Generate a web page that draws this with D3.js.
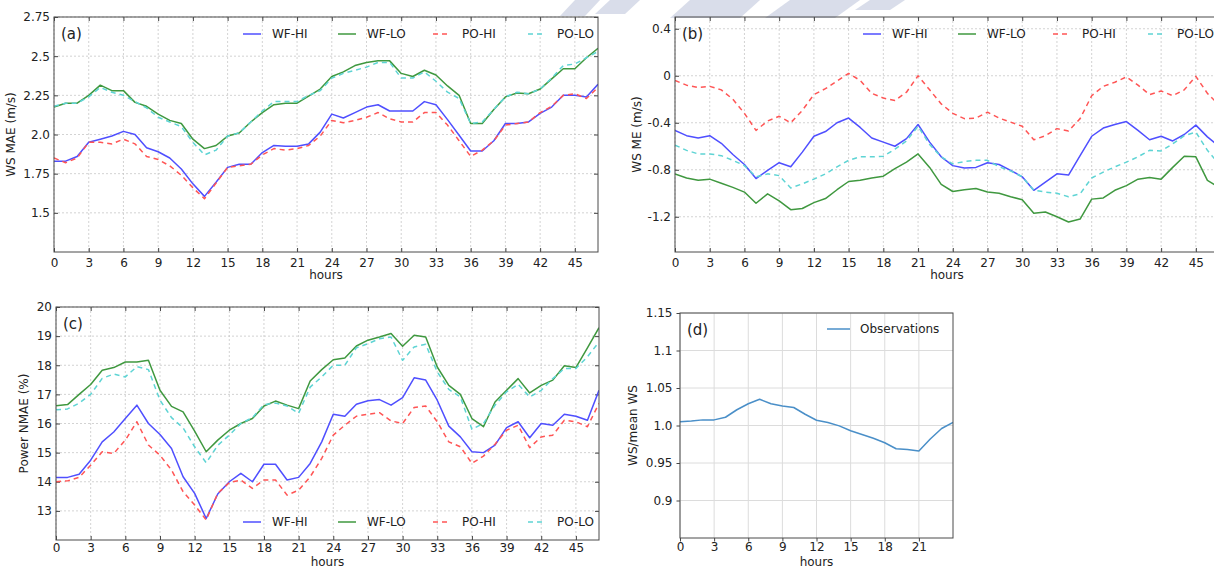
<!DOCTYPE html>
<html><head><meta charset="utf-8">
<script src="https://cdn.jsdelivr.net/npm/d3@7/dist/d3.min.js"></script>
<style>
body{margin:0;background:#fff;}
text{font-family:"DejaVu Sans",sans-serif;fill:#222;}
</style></head>
<body><svg id="c" width="1214" height="569"></svg>
<script>
// ---------- data ----------
const hours48 = d3.range(0, 48);
const hours24 = d3.range(0, 25);
const xTicks48 = [0,3,6,9,12,15,18,21,24,27,30,33,36,39,42,45];
const xTicks24 = [0,3,6,9,12,15,18,21];
const seriesNames = ["WF-HI","WF-LO","PO-HI","PO-LO"];

const aWFHI = [1.83,1.83,1.86,1.95,1.97,1.99,2.02,2.00,1.915,1.89,1.85,1.78,1.685,1.605,1.695,1.79,1.81,1.81,1.885,1.93,1.925,1.925,1.94,2.015,2.13,2.105,2.14,2.175,2.19,2.15,2.15,2.15,2.21,2.19,2.095,1.995,1.895,1.895,1.96,2.07,2.07,2.08,2.135,2.175,2.25,2.25,2.24,2.32];
const aWFLO = [2.175,2.20,2.20,2.25,2.315,2.28,2.28,2.205,2.18,2.13,2.09,2.07,1.97,1.91,1.93,1.99,2.01,2.08,2.14,2.19,2.20,2.20,2.245,2.29,2.37,2.40,2.44,2.46,2.47,2.47,2.39,2.37,2.41,2.38,2.31,2.25,2.07,2.07,2.16,2.24,2.265,2.26,2.29,2.355,2.42,2.42,2.49,2.55];
const aPOHI = [1.85,1.82,1.85,1.95,1.95,1.94,1.97,1.94,1.86,1.84,1.80,1.74,1.66,1.59,1.69,1.79,1.80,1.81,1.87,1.91,1.90,1.91,1.93,1.99,2.09,2.075,2.09,2.11,2.14,2.10,2.08,2.08,2.14,2.14,2.06,1.96,1.86,1.90,1.96,2.06,2.07,2.08,2.14,2.18,2.25,2.26,2.23,2.30];
const aPOLO = [2.18,2.20,2.20,2.24,2.30,2.27,2.25,2.21,2.17,2.11,2.08,2.05,1.95,1.87,1.90,1.99,2.01,2.08,2.15,2.21,2.21,2.21,2.25,2.28,2.36,2.39,2.41,2.43,2.46,2.46,2.36,2.36,2.40,2.34,2.27,2.23,2.07,2.08,2.16,2.24,2.27,2.26,2.29,2.36,2.44,2.45,2.49,2.53];

const bWFHI = [-0.465,-0.51,-0.53,-0.51,-0.575,-0.67,-0.755,-0.875,-0.805,-0.74,-0.775,-0.65,-0.515,-0.475,-0.40,-0.36,-0.44,-0.53,-0.565,-0.60,-0.535,-0.415,-0.565,-0.69,-0.765,-0.785,-0.78,-0.74,-0.755,-0.805,-0.86,-0.975,-0.905,-0.835,-0.845,-0.68,-0.515,-0.445,-0.415,-0.39,-0.465,-0.545,-0.515,-0.555,-0.50,-0.42,-0.52,-0.60];
const bWFLO = [-0.835,-0.87,-0.89,-0.88,-0.915,-0.95,-0.99,-1.085,-1.005,-1.065,-1.14,-1.13,-1.08,-1.045,-0.97,-0.90,-0.89,-0.87,-0.855,-0.79,-0.735,-0.665,-0.78,-0.925,-0.985,-0.97,-0.96,-0.99,-1.0,-1.03,-1.055,-1.17,-1.16,-1.20,-1.245,-1.22,-1.05,-1.04,-0.975,-0.935,-0.88,-0.865,-0.88,-0.78,-0.685,-0.69,-0.89,-0.95];
const bPOHI = [-0.04,-0.08,-0.10,-0.09,-0.12,-0.20,-0.32,-0.465,-0.385,-0.345,-0.40,-0.295,-0.16,-0.11,-0.045,0.02,-0.04,-0.15,-0.19,-0.21,-0.14,0.0,-0.12,-0.24,-0.32,-0.365,-0.36,-0.31,-0.36,-0.395,-0.43,-0.545,-0.51,-0.45,-0.47,-0.365,-0.17,-0.09,-0.055,-0.01,-0.08,-0.16,-0.13,-0.17,-0.12,-0.005,-0.15,-0.25];
const bPOLO = [-0.59,-0.635,-0.665,-0.665,-0.68,-0.72,-0.765,-0.86,-0.835,-0.85,-0.955,-0.92,-0.88,-0.835,-0.775,-0.72,-0.69,-0.69,-0.685,-0.625,-0.555,-0.43,-0.585,-0.69,-0.75,-0.73,-0.72,-0.72,-0.775,-0.81,-0.86,-0.975,-0.99,-1.0,-1.03,-1.005,-0.87,-0.82,-0.775,-0.735,-0.69,-0.635,-0.64,-0.58,-0.51,-0.48,-0.635,-0.75];

const cWFHI = [14.15,14.15,14.26,14.74,15.37,15.71,16.17,16.63,16.0,15.62,15.14,14.17,13.6,12.74,13.58,14.0,14.29,14.0,14.6,14.6,14.06,14.15,14.63,15.37,16.32,16.25,16.66,16.78,16.82,16.63,16.89,17.57,17.49,16.8,15.91,15.54,15.03,15.0,15.26,15.86,16.06,15.51,16.0,15.94,16.32,16.25,16.11,17.14];
const cWFLO = [16.61,16.65,17.0,17.34,17.83,17.92,18.11,18.11,18.17,17.14,16.59,16.4,15.74,15.03,15.43,15.77,16.0,16.17,16.6,16.77,16.63,16.51,17.46,17.85,18.19,18.25,18.66,18.86,18.97,19.09,18.65,19.03,18.97,17.94,17.31,17.0,16.17,15.89,16.74,17.14,17.54,17.05,17.31,17.49,17.98,17.92,18.6,19.29];
const cPOHI = [14.0,14.03,14.15,14.57,15.03,14.97,15.43,16.06,15.26,14.91,14.4,13.66,13.2,12.69,13.6,13.97,14.06,13.77,14.06,14.06,13.54,13.71,14.17,14.8,15.6,15.94,16.25,16.32,16.37,16.09,16.0,16.55,16.6,16.06,15.37,15.2,14.63,14.88,15.29,15.77,15.94,15.17,15.54,15.6,16.11,16.06,15.89,16.69];
const cPOLO = [16.47,16.5,16.7,17.0,17.55,17.7,17.6,17.95,17.85,16.8,16.2,15.85,15.2,14.65,15.25,15.6,16.0,16.2,16.65,16.7,16.6,16.35,17.25,17.6,18.0,18.0,18.6,18.74,18.91,18.97,18.17,18.63,18.72,17.77,17.17,16.91,15.8,16.0,16.63,17.09,17.35,16.91,17.14,17.54,17.89,17.89,18.29,18.8];

const dObs = [1.005,1.006,1.0075,1.0075,1.011,1.021,1.029,1.035,1.029,1.026,1.024,1.015,1.007,1.004,0.9995,0.993,0.988,0.983,0.977,0.969,0.968,0.966,0.982,0.996,1.004];

const aYTicks = [1.5,1.75,2.0,2.25,2.5,2.75];
const aYLabels = ["1.5","1.75","2.0","2.25","2.5","2.75"];
const bYTicks = [-1.2,-0.8,-0.4,0,0.4];
const bYLabels = ["-1.2","-0.8","-0.4","0","0.4"];
const cYTicks = [13,14,15,16,17,18,19,20];
const cYLabels = ["13","14","15","16","17","18","19","20"];
const dYTicks = [0.9,0.95,1.0,1.05,1.1,1.15];
const dYLabels = ["0.9","0.95","1.0","1.05","1.1","1.15"];

// ---------- styles ----------
const styles = [
  {color:"#4f4fff", dash:null},
  {color:"#3f983f", dash:null},
  {color:"#ff5555", dash:"5,4"},
  {color:"#5ed4d4", dash:"5,4"}
];

const svg = d3.select("#c");
svg.append("rect").attr("width",1214).attr("height",569).attr("fill","#fff");

// faint watermark shapes
const wm = svg.append("g").attr("fill","#d5dae8").attr("opacity",0.9);
[[575,0,600,0,585,16,560,16],[610,0,640,0,625,14,595,14],[690,0,760,0,740,18,670,18],[790,0,860,0,835,18,765,18],[870,0,905,0,890,10,855,10]]
 .forEach(p=>wm.append("polygon").attr("points",[[p[0],p[1]],[p[2],p[3]],[p[4],p[5]],[p[6],p[7]]].map(q=>q.join(",")).join(" ")));

function panel(o){
  const g = svg.append("g");
  const x = d3.scaleLinear().domain(o.xDomain).range([o.left,o.right]);
  const y = d3.scaleLinear().domain(o.yDomain).range([o.bottom,o.top]);
  const clipId = "clip"+o.tag;
  svg.append("clipPath").attr("id",clipId).append("rect")
     .attr("x",o.left).attr("y",o.top).attr("width",o.right-o.left).attr("height",o.bottom-o.top);
  // grid
  const grid = g.append("g").attr("stroke",o.gridColor).attr("stroke-width",o.gridWidth)
     .attr("stroke-dasharray",o.gridDash);
  o.xTicks.forEach(t=>grid.append("line").attr("x1",x(t)).attr("x2",x(t)).attr("y1",o.top).attr("y2",o.bottom));
  o.yTicks.forEach(t=>grid.append("line").attr("x1",o.left).attr("x2",o.right).attr("y1",y(t)).attr("y2",y(t)));
  // axes
  const ts = o.inward ? -4 : 3.5;
  const ax = g.append("g").attr("transform",`translate(0,${o.bottom})`)
     .call(d3.axisBottom(x).tickValues(o.xTicks).tickFormat(d3.format("d")).tickSizeInner(ts).tickSizeOuter(0).tickPadding(o.xPad));
  const ay = g.append("g").attr("transform",`translate(${o.left},0)`)
     .call(d3.axisLeft(y).tickValues(o.yTicks).tickFormat((d,i)=>o.yLabels[i]).tickSizeInner(ts).tickSizeOuter(0).tickPadding(4));
  [ax,ay].forEach(a=>{a.select(".domain").remove();a.selectAll("line").attr("stroke","#444");
     a.selectAll("text").attr("font-size","12px").attr("fill","#222").attr("font-family","DejaVu Sans, sans-serif");});
  if(o.inward){
    const at = g.append("g").attr("transform",`translate(0,${o.top})`)
      .call(d3.axisTop(x).tickValues(o.xTicks).tickFormat("").tickSizeInner(-4).tickSizeOuter(0));
    const ar = g.append("g").attr("transform",`translate(${o.right},0)`)
      .call(d3.axisRight(y).tickValues(o.yTicks).tickFormat("").tickSizeInner(-4).tickSizeOuter(0));
    [at,ar].forEach(a=>{a.select(".domain").remove();a.selectAll("line").attr("stroke","#444");});
  }
  // lines
  const lg = g.append("g").attr("clip-path",`url(#${clipId})`);
  o.series.forEach((s)=>{
    const line = d3.line().x((d,i)=>x(s.xs[i])).y(d=>y(d));
    lg.append("path").datum(s.values).attr("d",line).attr("fill","none")
      .attr("stroke",s.color).attr("stroke-width",1.5).attr("stroke-dasharray",s.dash)
      .attr("stroke-linejoin","round");
  });
  // frame
  g.append("rect").attr("x",o.left).attr("y",o.top).attr("width",o.right-o.left).attr("height",o.bottom-o.top)
    .attr("fill","none").attr("stroke",o.frameColor).attr("stroke-width",1);
  // labels
  g.append("text").attr("x",o.left+7).attr("y",o.top+22).attr("font-size","15px").text(o.letter);
  g.append("text").attr("x",(o.left+o.right)/2).attr("y",o.bottom+o.hoursOff).attr("text-anchor","middle")
    .attr("font-size","12px").text("hours");
  g.append("text").attr("transform",`translate(${o.yLabelX},${(o.top+o.bottom)/2}) rotate(-90)`)
    .attr("text-anchor","middle").attr("font-size","12px").text(o.yLabel);
  // legend
  const leg = g.append("g");
  o.legend.forEach((s,i)=>{
    const lx = o.legX + i*95, ly = o.legY;
    leg.append("line").attr("x1",lx).attr("x2",lx+(o.legLen||18)).attr("y1",ly).attr("y2",ly)
      .attr("stroke",s.color).attr("stroke-width",1.5).attr("stroke-dasharray",s.dash);
    leg.append("text").attr("x",lx+(o.legTextOff||29)).attr("y",ly+4).attr("font-size","12px").text(s.name);
  });
}

function mk(vals){ return seriesNames.map((n,i)=>({name:n, values:vals[i], xs:hours48, color:styles[i].color, dash:styles[i].dash})); }

const common = {inward:true, gridColor:"#c8c8c8", gridWidth:0.8, gridDash:"2,2", frameColor:"#4a4a4a", xDomain:[0,47], xTicks:xTicks48, xPad:6};

const sa = mk([aWFHI,aWFLO,aPOHI,aPOLO]);
panel(Object.assign({}, common, {tag:"a", left:54, right:598, top:17, bottom:252, yDomain:[1.25,2.75], yTicks:aYTicks, yLabels:aYLabels,
  series:sa, legend:sa, legX:243, legY:34, letter:"(a)", yLabel:"WS MAE (m/s)", yLabelX:15, hoursOff:27}));

const sb = mk([bWFHI,bWFLO,bPOHI,bPOLO]);
panel(Object.assign({}, common, {tag:"b", left:675, right:1219, top:17, bottom:252, yDomain:[-1.5,0.5], yTicks:bYTicks, yLabels:bYLabels,
  series:sb, legend:sb, legX:863, legY:34, letter:"(b)", yLabel:"WS ME (m/s)", yLabelX:641, hoursOff:27}));

const sc = mk([cWFHI,cWFLO,cPOHI,cPOLO]);
panel(Object.assign({}, common, {tag:"c", left:56, right:599, top:307, bottom:540, yDomain:[12,20], yTicks:cYTicks, yLabels:cYLabels,
  series:sc, legend:sc, legX:243, legY:522, letter:"(c)", yLabel:"Power NMAE (%)", yLabelX:28, hoursOff:26, xPad:3}));

const sd = [{name:"Observations", values:dObs, xs:hours24, color:"#4a8fc8", dash:null}];
panel({tag:"d", inward:false, gridColor:"#dcdcdc", gridWidth:1, gridDash:null, frameColor:"#4a4a4a", xPad:1,
  left:680, right:953, top:313, bottom:538, xDomain:[0,24], xTicks:xTicks24, yDomain:[0.85,1.15], yTicks:dYTicks, yLabels:dYLabels,
  series:sd, legend:sd, legX:827, legY:329, legLen:23, legTextOff:33, letter:"(d)", yLabel:"WS/mean WS", yLabelX:637, hoursOff:28});
</script></body></html>
